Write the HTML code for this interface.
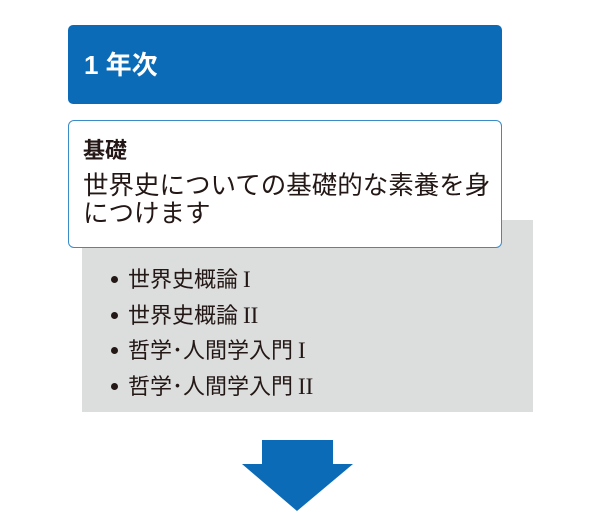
<!DOCTYPE html>
<html><head><meta charset="utf-8"><style>
body{margin:0;width:600px;height:511px;background:#fff;position:relative;overflow:hidden;font-family:"Liberation Sans","Noto Sans CJK JP",sans-serif;color:#231815}
.a{position:absolute}
.j{font-family:"Noto Sans CJK JP",sans-serif}
.r{font-family:"Liberation Serif",serif;margin-left:5px;font-size:23px}
.li{position:relative;height:35.5px;line-height:35.5px}
.li:before{content:"";position:absolute;left:-17px;top:15px;width:7px;height:7px;border-radius:50%;background:#231815}
</style></head><body>
<div class="a" style="left:82px;top:220px;width:451px;height:192px;background:#dcdddd"></div>
<div class="a" style="left:68px;top:25px;width:434px;height:79px;background:#0b6bb7;border-radius:5px"></div>
<div class="a" style="left:84px;top:48px;font-size:26px;font-weight:bold;color:#fff;line-height:34px">1 年次</div>
<div class="a" style="left:68px;top:120px;width:432px;height:126px;background:#fff;border:1px solid #3a8cc9;border-radius:6px"></div>
<div class="a j" style="left:83px;top:134px;font-size:22px;font-weight:bold;line-height:30px">基礎</div>
<div class="a j" style="left:83px;top:170px;font-size:25.5px;line-height:28px;width:430px;white-space:nowrap">世界史についての基礎的な素養を身<br>につけます</div>
<div class="a j" style="left:128px;top:261px;font-size:22px;white-space:nowrap">
<div class="li">世界史概論<span class="r">I</span></div><div class="li">世界史概論<span class="r">II</span></div><div class="li">哲学･人間学入門<span class="r">I</span></div><div class="li">哲学･人間学入門<span class="r">II</span></div></div>
<svg class="a" style="left:0;top:0" width="600" height="511"><polygon points="262,440 333,440 333,464 353,464 297,511 242,464 262,464" fill="#0b6bb7"/></svg>
</body></html>
